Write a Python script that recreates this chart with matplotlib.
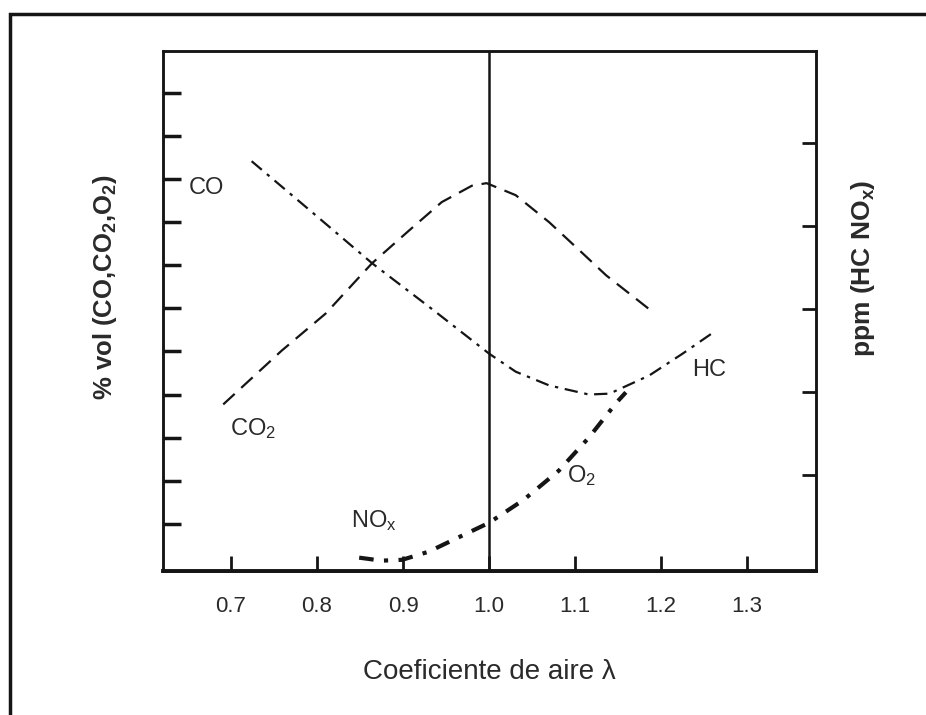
import numpy as np
import matplotlib
matplotlib.use('Agg')
import matplotlib.pyplot as plt
from matplotlib.patches import Rectangle

plt.rcParams['font.family'] = ['Liberation Sans', 'DejaVu Sans']
plt.rcParams['mathtext.fontset'] = 'custom'
plt.rcParams['mathtext.rm'] = 'Liberation Sans'
plt.rcParams['mathtext.it'] = 'Liberation Sans:italic'
plt.rcParams['mathtext.bf'] = 'Liberation Sans:bold'

# curves (x = lambda, y in left-axis units)
co_hc_x = [0.724, 0.794, 0.864, 0.934, 1.000, 1.031, 1.070, 1.116, 1.140, 1.186, 1.225, 1.259]
co_hc_y = [9.42, 8.24, 7.05, 5.98, 4.95, 4.53, 4.21, 4.00, 4.02, 4.44, 4.95, 5.42]

co2_x = [0.691, 0.759, 0.810, 0.864, 0.907, 0.945, 0.980, 0.997, 1.031, 1.070, 1.105, 1.136, 1.185]
co2_y = [3.77, 5.02, 5.88, 7.05, 7.81, 8.47, 8.85, 8.91, 8.63, 8.00, 7.35, 6.77, 6.00]

o2_x = [0.849, 0.875, 0.899, 0.930, 0.956, 1.000, 1.040, 1.081, 1.116, 1.148, 1.159]
o2_y = [0.21, 0.14, 0.16, 0.35, 0.60, 1.02, 1.55, 2.23, 3.00, 3.81, 4.05]

x_ticks = [0.7, 0.8, 0.9, 1.0, 1.1, 1.2, 1.3]
x_ticklabels = ['0.7', '0.8', '0.9', '1.0', '1.1', '1.2', '1.3']
left_ticks = list(range(1, 12))
right_ticks = [1, 2, 3, 4, 5]

ink = '#151515'
txt = '#2a2a2a'

fig = plt.figure(figsize=(9.26, 7.15), dpi=100)
ax = fig.add_axes([163 / 926, 1 - 571 / 715, (816 - 163) / 926, (571 - 51) / 715])
ax.set_xlim(0.621, 1.380)
ax.set_ylim(-0.1, 11.98)

ax.plot(co_hc_x, co_hc_y, color=ink, lw=1.6, linestyle=(0, (6, 3, 1.5, 3)))
ax.plot(co2_x, co2_y, color=ink, lw=1.6, linestyle=(0, (7, 4)))
ax.plot(o2_x, o2_y, color=ink, lw=3.0, linestyle=(0, (3.5, 2.5, 1, 2.5)))
ax.axvline(1.0, color=ink, lw=1.8)

lbl = dict(fontsize=17, color=txt, ha='center', va='center')
ax.text(0.671, 8.79, 'CO', **lbl)
ax.text(0.7256, 3.21, r'CO$_\mathregular{2}$', **lbl)
ax.text(1.256, 4.56, 'HC', **lbl)
ax.text(1.108, 2.12, r'O$_\mathregular{2}$', **lbl)
ax.text(0.866, 1.07, r'NO$_\mathregular{x}$', **lbl)

ax.set_xticks(x_ticks)
ax.set_xticklabels(x_ticklabels)
ax.set_yticks(left_ticks)
ax.set_yticklabels([])
ax.tick_params(axis='y', direction='in', length=13, width=2.5, color=ink)
ax.tick_params(axis='x', direction='in', length=11, width=2, color=ink,
               labelsize=16, labelcolor=txt, pad=18)

ax2 = ax.twinx()
ax2.set_ylim(-0.16, 6.11)
ax2.set_yticks(right_ticks)
ax2.set_yticklabels([])
ax2.tick_params(axis='y', direction='in', length=10, width=2, color=ink)

for a in (ax, ax2):
    for s in a.spines.values():
        s.set_linewidth(1.8)
        s.set_color(ink)
ax.spines['bottom'].set_linewidth(2.8)

ax.set_xlabel('Coeficiente de aire λ', fontsize=20, color=txt, labelpad=30)
fig.text(105 / 926, 1 - 287 / 715, '% vol (CO,CO$_\\mathregular{2}$,O$_\\mathregular{2}$)',
         rotation=90, fontsize=18.5, fontweight='bold', color=txt, ha='center', va='center')
fig.text(863 / 926, 1 - 268 / 715, 'ppm (HC NO$_\\mathregular{x}$)',
         rotation=90, fontsize=19, fontweight='bold', color=txt, ha='center', va='center')

# outer frame of the scanned page
fig.patches.append(Rectangle((10 / 926, -0.2), 1.2, 1.2 - 14 / 715, transform=fig.transFigure,
                             fill=False, lw=2.5, edgecolor=ink))

fig.savefig('out.png', dpi=100)
